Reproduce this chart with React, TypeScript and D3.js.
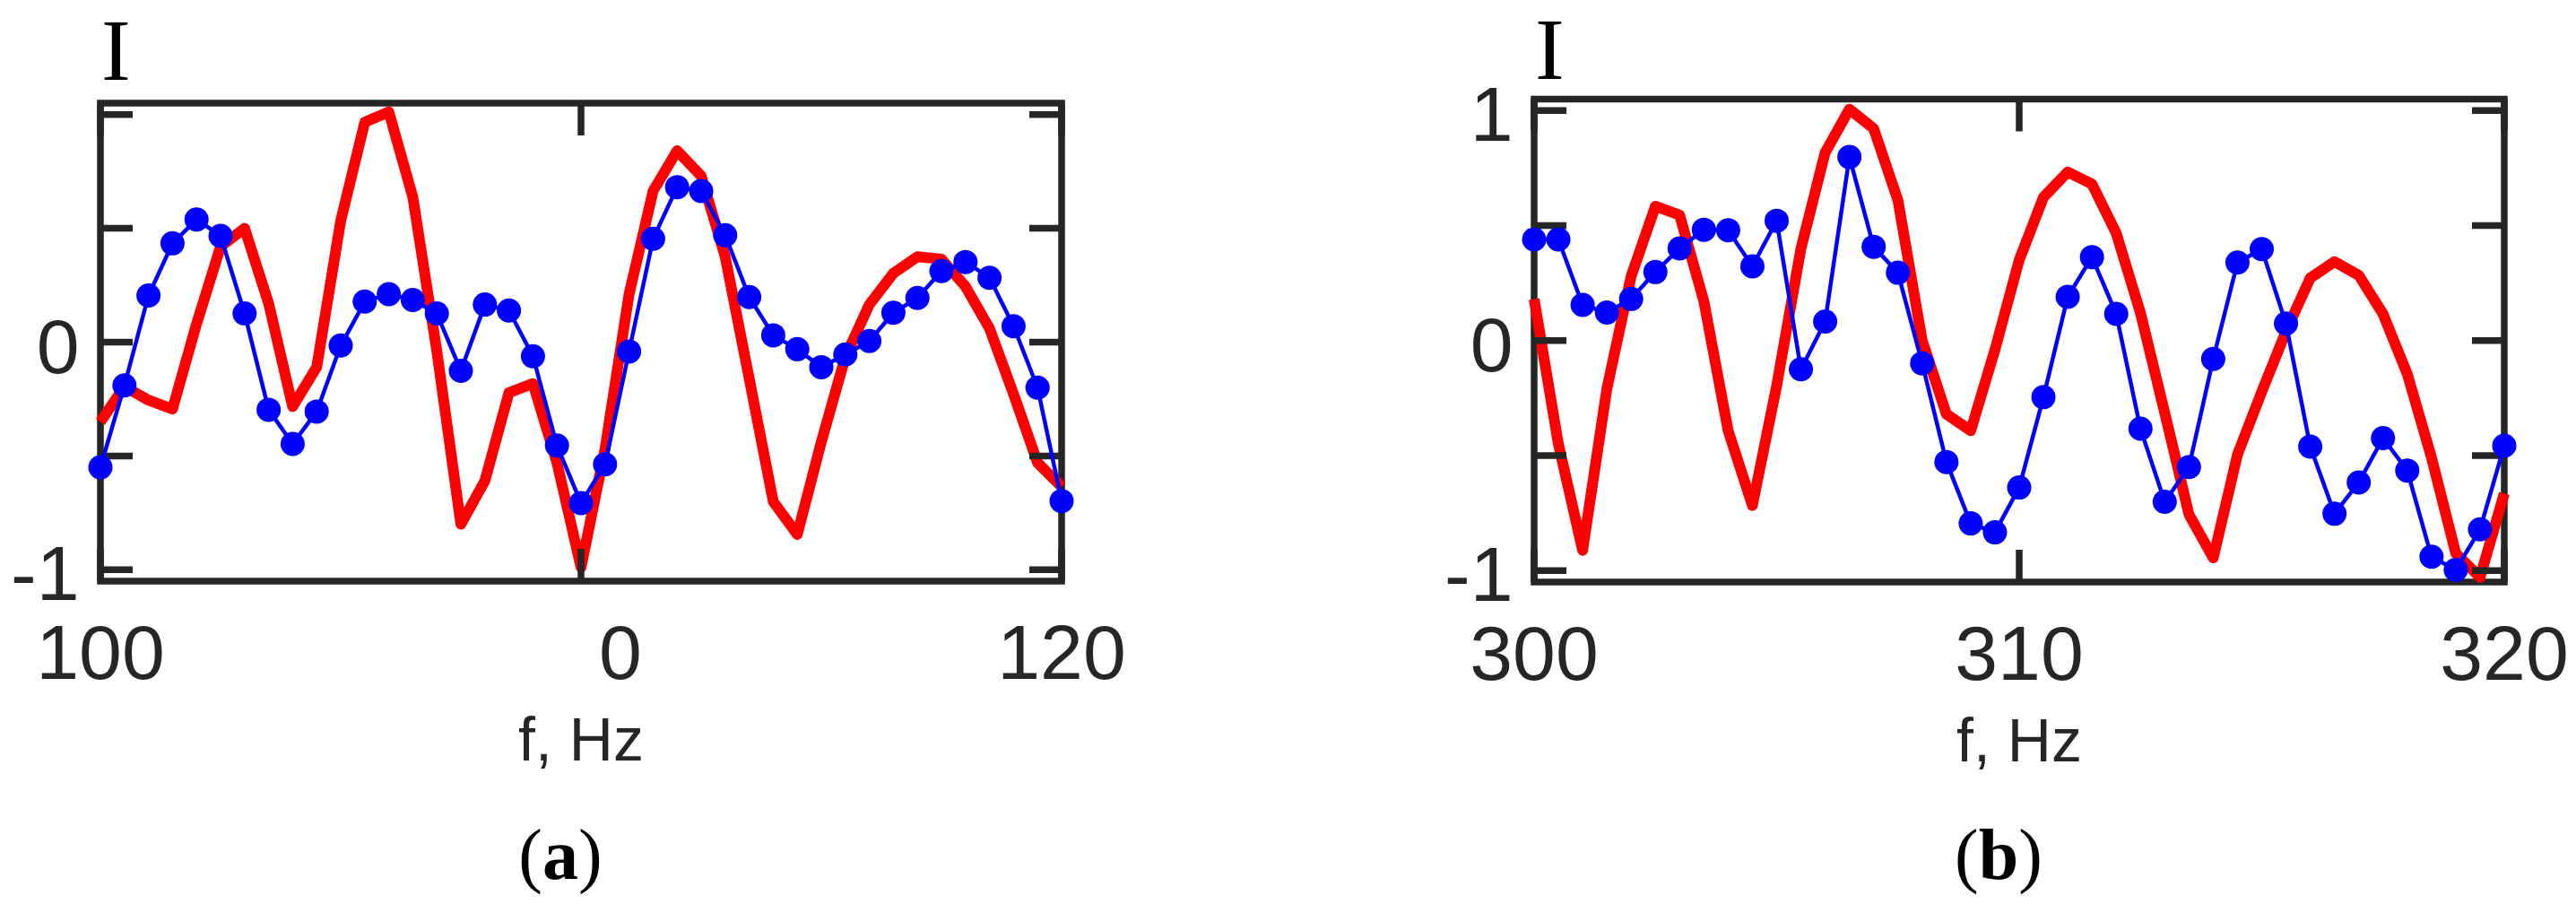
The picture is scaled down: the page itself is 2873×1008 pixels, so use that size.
import React from "react";
import * as d3 from "d3";

// ---------------- data ----------------
const freqA = [100, 100.5, 101, 101.5, 102, 102.5, 103, 103.5, 104, 104.5, 105, 105.5, 106, 106.5, 107, 107.5, 108, 108.5, 109, 109.5, 110, 110.5, 111, 111.5, 112, 112.5, 113, 113.5, 114, 114.5, 115, 115.5, 116, 116.5, 117, 117.5, 118, 118.5, 119, 119.5, 120];
const blueA = [-0.55, -0.19, 0.205, 0.434, 0.539, 0.467, 0.126, -0.297, -0.447, -0.305, -0.015, 0.178, 0.211, 0.185, 0.126, -0.126, 0.165, 0.139, -0.062, -0.454, -0.707, -0.537, -0.041, 0.454, 0.681, 0.664, 0.47, 0.198, 0.03, -0.031, -0.11, -0.054, 0.005, 0.129, 0.194, 0.312, 0.352, 0.283, 0.07, -0.2, -0.698];
const redA = [-0.35, -0.195, -0.255, -0.294, 0.08, 0.42, 0.5, 0.17, -0.283, -0.11, 0.533, 0.966, 1.012, 0.638, -0.04, -0.8, -0.609, -0.222, -0.182, -0.53, -0.99, -0.47, 0.21, 0.664, 0.841, 0.73, 0.375, -0.16, -0.7, -0.845, -0.438, -0.065, 0.165, 0.303, 0.375, 0.365, 0.244, 0.06, -0.228, -0.53, -0.635];

const freqB = [300, 300.5, 301, 301.5, 302, 302.5, 303, 303.5, 304, 304.5, 305, 305.5, 306, 306.5, 307, 307.5, 308, 308.5, 309, 309.5, 310, 310.5, 311, 311.5, 312, 312.5, 313, 313.5, 314, 314.5, 315, 315.5, 316, 316.5, 317, 317.5, 318, 318.5, 319, 319.5, 320];
const blueB = [0.44, 0.44, 0.155, 0.122, 0.181, 0.298, 0.401, 0.482, 0.48, 0.323, 0.521, -0.125, 0.083, 0.798, 0.408, 0.295, -0.099, -0.528, -0.795, -0.834, -0.639, -0.246, 0.19, 0.363, 0.116, -0.383, -0.701, -0.55, -0.08, 0.339, 0.398, 0.074, -0.461, -0.753, -0.617, -0.424, -0.565, -0.94, -0.997, -0.821, -0.457];
const redB = [0.18, -0.45, -0.912, -0.21, 0.28, 0.584, 0.545, 0.17, -0.392, -0.717, -0.197, 0.4, 0.818, 1.006, 0.922, 0.61, 0.0, -0.32, -0.392, -0.04, 0.35, 0.623, 0.733, 0.681, 0.467, 0.12, -0.314, -0.756, -0.945, -0.496, -0.223, 0.04, 0.272, 0.343, 0.284, 0.116, -0.145, -0.509, -0.925, -1.03, -0.665];

const yTicks = [-1, -0.5, 0, 0.5, 1];
const yTickLabelsA = ["-1", "", "0", "", ""];
const yTickLabelsB = ["-1", "", "0", "", "1"];
const xTicksA = [100, 110, 120];
const xTickLabelsA = ["100", "0", "120"];
const xTicksB = [300, 310, 320];
const xTickLabelsB = ["300", "310", "320"];
const yDomain = [-1.05, 1.05];
const xTitle = "f, Hz";
const yTitle = "I";
const captionA = "a";
const captionB = "b";

// ---------------- style ----------------
const AXIS = "#262626";
const RED = "#ff0000";
const BLUE = "#0000ff";
const SANS = "'Liberation Sans', Arial, sans-serif";
const SERIF = "'Liberation Serif', 'Times New Roman', serif";

type PanelProps = {
  left: number; right: number; top: number; bottom: number;
  freq: number[]; blue: number[]; red: number[];
  xTicks: number[]; xLabels: string[]; xLabelDx: number[];
  yLabels: string[]; caption: string; titleBaseline: number;
};

function Panel(p: PanelProps) {
  const x = d3.scaleLinear().domain([p.freq[0], p.freq[p.freq.length - 1]]).range([p.left, p.right]);
  const y = d3.scaleLinear().domain(yDomain).range([p.bottom, p.top]);
  const line = d3.line<number>().x((_, i) => x(p.freq[i])).y((d) => y(d));
  const tickLen = 36;
  const sw = 7.5;
  const cx = (p.left + p.right) / 2;
  return (
    <g>
      <rect x={p.left} y={p.top} width={p.right - p.left} height={p.bottom - p.top}
        fill="none" stroke={AXIS} strokeWidth={sw} />
      <path d={line(p.red) || ""} fill="none" stroke={RED} strokeWidth={12}
        strokeLinejoin="round" strokeLinecap="butt" />
      {yTicks.map((t) => (
        <g key={"yt" + t}>
          <line x1={p.left} x2={p.left + tickLen} y1={y(t)} y2={y(t)} stroke={AXIS} strokeWidth={sw} />
          <line x1={p.right} x2={p.right - tickLen} y1={y(t)} y2={y(t)} stroke={AXIS} strokeWidth={sw} />
        </g>
      ))}
      {p.xTicks.map((t) => (
        <g key={"xt" + t}>
          <line x1={x(t)} x2={x(t)} y1={p.bottom} y2={p.bottom - tickLen} stroke={AXIS} strokeWidth={sw} />
          <line x1={x(t)} x2={x(t)} y1={p.top} y2={p.top + tickLen} stroke={AXIS} strokeWidth={sw} />
        </g>
      ))}
      <path d={line(p.blue) || ""} fill="none" stroke={BLUE} strokeWidth={4.5} strokeLinejoin="round" />
      {p.blue.map((v, i) => (
        <circle key={"b" + i} cx={x(p.freq[i])} cy={y(v)} r={13.5} fill={BLUE} />
      ))}
      {/* y tick labels */}
      {yTicks.map((t, i) =>
        p.yLabels[i] ? (
          <text key={"yl" + t} x={p.left - 23.5} y={y(t) + 34} textAnchor="end"
            fontFamily={SANS} fontSize={86} fill={AXIS}>{p.yLabels[i]}</text>
        ) : null
      )}
      {/* x tick labels */}
      {p.xTicks.map((t, i) => (
        <text key={"xl" + t} x={x(t) + p.xLabelDx[i]} y={p.bottom + 109} textAnchor="middle"
          fontFamily={SANS} fontSize={86} fill={AXIS}>{p.xLabels[i]}</text>
      ))}
      {/* axis titles */}
      <text x={cx} y={p.bottom + 200} textAnchor="middle" fontFamily={SANS} fontSize={68} fill={AXIS}>{xTitle}</text>
      <text x={p.left + 1} y={p.titleBaseline} fontFamily={SERIF} fontSize={98} fill="#000">{yTitle}</text>
      {/* caption */}
      <text x={cx - 23} y={980} textAnchor="middle" fontFamily={SERIF} fontSize={80} fill="#000">
        (<tspan fontWeight="bold">{p.caption}</tspan>)
      </text>
    </g>
  );
}

export default function App() {
  return (
    <svg width={2873} height={1008} viewBox="0 0 2873 1008"
      style={{ position: "absolute", left: 0, top: 0, background: "#fff" }}>
      <rect x={0} y={0} width={2873} height={1008} fill="#fff" />
      <Panel left={112} right={1184} top={115} bottom={648}
        freq={freqA} blue={blueA} red={redA}
        xTicks={xTicksA} xLabels={xTickLabelsA} xLabelDx={[0, 44, 0]}
        yLabels={yTickLabelsA} caption={captionA} titleBaseline={89} />
      <Panel left={1711} right={2793} top={110.5} bottom={649}
        freq={freqB} blue={blueB} red={redB}
        xTicks={xTicksB} xLabels={xTickLabelsB} xLabelDx={[0, 0, 0]}
        yLabels={yTickLabelsB} caption={captionB} titleBaseline={88} />
    </svg>
  );
}
